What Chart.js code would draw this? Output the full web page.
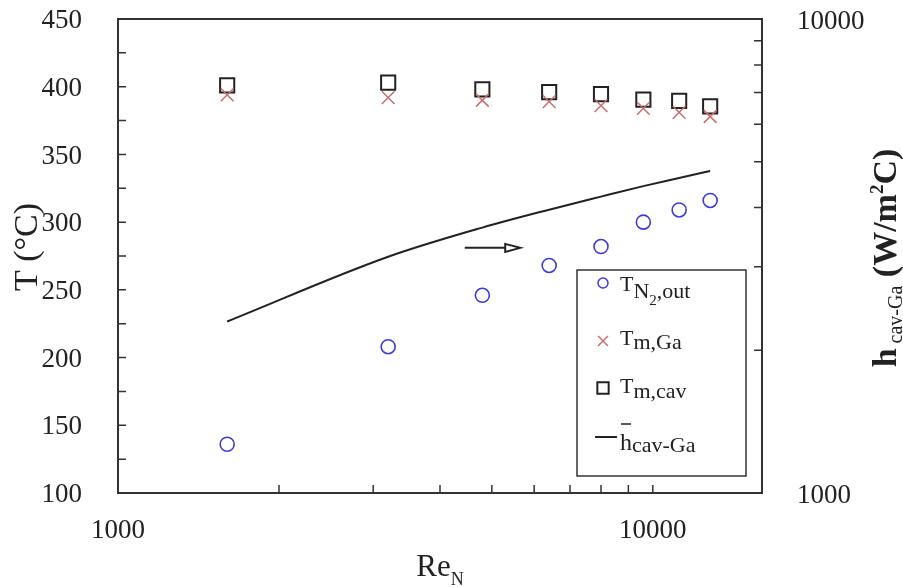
<!DOCTYPE html>
<html>
<head>
<meta charset="utf-8">
<script src="https://cdn.jsdelivr.net/npm/chart.js@4.4.1/dist/chart.umd.min.js"></script>
<style>
  html, body { margin: 0; padding: 0; background: #fff; }
  #wrap { width: 903px; height: 587px; }
</style>
</head>
<body>
<div id="wrap"><canvas id="chart" width="903" height="587"></canvas></div>
<script>
// Reynolds number (bottom axis, log)
const reN = [1600, 3200, 4800, 6400, 8000, 9600, 11200, 12800];
// temperatures on the left axis (°C)
const tN2Out = [136, 208, 246, 268, 282, 300, 309, 316];
const tMGa = [394, 392, 390, 389, 386, 384, 381, 378];
const tMCav = [401, 403, 398, 396, 394.5, 390.5, 389.5, 385.5];
// mean heat transfer coefficient on the right axis (W/m2C, log)
const hCavGa = [2300, 3150, 3630, 3960, 4220, 4440, 4620, 4780];

// axis ranges, labelled ticks and inner tick marks
const xRange = [1000, 16000];
const xLabels = [1000, 10000];
const xMarks = [2000, 3000, 4000, 5000, 6000, 7000, 8000, 9000, 10000];
const tRange = [100, 450];
const tMarks = [125, 150, 175, 200, 225, 250, 275, 300, 325, 350, 375, 400, 425];
const hRange = [1000, 10000];
const hLabels = [1000, 10000];
const hMarks = [2000, 3000, 4000, 5000, 6000, 7000, 8000, 9000];

// arrow showing the curve belongs to the right axis
const arrowRe = [4450, 5650];
const arrowT = 281;

const SERIF = '"Liberation Serif", "Times New Roman", serif';
const INK = '#222';
const BLUE = 'rgb(60,60,215)';
const ROSE = 'rgb(200,110,110)';

const pts = ys => reN.map((x, i) => ({ x, y: ys[i] }));

// draws a run of text pieces [text, size, dy, weight] and returns its width
function richText(ctx, x, y, parts, measureOnly) {
  let cx = x;
  parts.forEach(([t, size, dy, weight]) => {
    ctx.font = `${weight || 'normal'} ${size}px ${SERIF}`;
    if (!measureOnly) ctx.fillText(t, cx, y + dy);
    cx += ctx.measureText(t).width;
  });
  return cx - x;
}

function rotatedTitle(ctx, bx, cy, parts) {
  ctx.save();
  ctx.translate(bx, cy);
  ctx.rotate(-Math.PI / 2);
  const w = richText(ctx, 0, 0, parts, true);
  richText(ctx, -w / 2, 0, parts);
  ctx.restore();
}

// keep chart.js from adding label overhang to the plot margins
function fixBox(size) {
  return s => {
    if (s.isHorizontal()) s.height = size; else s.width = size;
    s.paddingTop = s.paddingBottom = s.paddingLeft = s.paddingRight = 0;
  };
}

const decorPlugin = {
  id: 'decor',
  afterDraw(chart) {
    const { ctx, chartArea: a, scales } = chart;
    const { x, y, y1 } = scales;
    ctx.save();

    // frame
    ctx.strokeStyle = '#333';
    ctx.lineWidth = 2;
    ctx.strokeRect(a.left, a.top, a.right - a.left, a.bottom - a.top);

    // inward tick marks
    ctx.lineWidth = 1.5;
    ctx.beginPath();
    xMarks.forEach(v => {
      const px = x.getPixelForValue(v);
      ctx.moveTo(px, a.bottom);
      ctx.lineTo(px, a.bottom - 8);
    });
    tMarks.forEach(v => {
      const py = y.getPixelForValue(v);
      ctx.moveTo(a.left, py);
      ctx.lineTo(a.left + 8, py);
    });
    hMarks.forEach(v => {
      const py = y1.getPixelForValue(v);
      ctx.moveTo(a.right, py);
      ctx.lineTo(a.right - 8, py);
    });
    ctx.stroke();

    // arrow
    const ax0 = x.getPixelForValue(arrowRe[0]);
    const ax1 = x.getPixelForValue(arrowRe[1]);
    const ay = y.getPixelForValue(arrowT);
    ctx.strokeStyle = INK;
    ctx.lineWidth = 2;
    ctx.beginPath();
    ctx.moveTo(ax0, ay);
    ctx.lineTo(ax1 - 14, ay);
    ctx.stroke();
    ctx.beginPath();
    ctx.moveTo(ax1 - 15, ay - 4);
    ctx.lineTo(ax1, ay);
    ctx.lineTo(ax1 - 15, ay + 4);
    ctx.closePath();
    ctx.fillStyle = '#fff';
    ctx.fill();
    ctx.stroke();

    // axis titles
    ctx.fillStyle = INK;
    ctx.textBaseline = 'alphabetic';
    rotatedTitle(ctx, 37, 247, [['T (°C)', 34, 0]]);
    rotatedTitle(ctx, 896, 258, [
      ['h', 34, 0, 'bold'], [' cav-Ga', 20, 6], [' (W/m', 34, 0, 'bold'],
      ['2', 19, -13, 'bold'], ['C)', 34, 0, 'bold']
    ]);
    const reParts = [['Re', 31, 0], ['N', 18, 9]];
    const bw = richText(ctx, 0, 0, reParts, true);
    richText(ctx, (a.left + a.right) / 2 - bw / 2, 576, reParts);

    // legend
    ctx.strokeStyle = '#333';
    ctx.lineWidth = 1.5;
    ctx.strokeRect(577, 270, 169, 206);
    const H = Chart.helpers;
    ctx.fillStyle = 'rgba(0,0,0,0)';
    ctx.strokeStyle = BLUE; ctx.lineWidth = 1.5;
    H.drawPoint(ctx, { pointStyle: 'circle', radius: 5, borderWidth: 1.5, rotation: 0 }, 603, 283);
    ctx.strokeStyle = ROSE;
    H.drawPoint(ctx, { pointStyle: 'crossRot', radius: 7, borderWidth: 1.5, rotation: 0 }, 603, 341);
    ctx.strokeStyle = INK; ctx.lineWidth = 2;
    H.drawPoint(ctx, { pointStyle: 'rect', radius: 8, borderWidth: 2, rotation: 0 }, 603, 388);
    ctx.beginPath();
    ctx.moveTo(595, 437);
    ctx.lineTo(617, 437);
    ctx.stroke();

    ctx.fillStyle = INK;
    richText(ctx, 620, 291, [['T', 22, 0], ['N', 22, 7], ['2', 15, 14], [',out', 22, 7]]);
    richText(ctx, 620, 345, [['T', 22, 0], ['m,Ga', 22, 4]]);
    richText(ctx, 620, 393, [['T', 22, 0], ['m,cav', 22, 5]]);
    const hw = richText(ctx, 620, 450, [['h', 24, 0]]);
    ctx.lineWidth = 1.5;
    ctx.beginPath();
    ctx.moveTo(621, 424);
    ctx.lineTo(620 + hw - 1, 424);
    ctx.stroke();
    richText(ctx, 620 + hw, 452, [['cav-Ga', 22, 0]]);

    ctx.restore();
  }
};

const tickFont = { family: SERIF, size: 27 };

new Chart(document.getElementById('chart'), {
  type: 'scatter',
  data: {
    datasets: [
      {
        label: 'T N2,out', data: pts(tN2Out), yAxisID: 'y',
        pointStyle: 'circle', pointRadius: 7, borderWidth: 1.6,
        borderColor: BLUE, backgroundColor: 'rgba(0,0,0,0)'
      },
      {
        label: 'T m,Ga', data: pts(tMGa), yAxisID: 'y',
        pointStyle: 'crossRot', pointRadius: 9, borderWidth: 1.5,
        borderColor: ROSE, backgroundColor: 'rgba(0,0,0,0)'
      },
      {
        label: 'T m,cav', data: pts(tMCav), yAxisID: 'y',
        pointStyle: 'rect', pointRadius: 10, borderWidth: 2,
        borderColor: INK, backgroundColor: 'rgba(0,0,0,0)'
      },
      {
        type: 'line', label: 'h cav-Ga', data: pts(hCavGa), yAxisID: 'y1',
        showLine: true, pointRadius: 0, borderWidth: 2, borderColor: INK,
        cubicInterpolationMode: 'monotone', fill: false
      }
    ]
  },
  options: {
    responsive: false,
    animation: false,
    devicePixelRatio: 1,
    layout: { padding: { top: 19, left: 0, right: 0, bottom: 0 } },
    plugins: { legend: { display: false }, tooltip: { enabled: false } },
    scales: {
      x: {
        type: 'logarithmic', min: xRange[0], max: xRange[1],
        grid: { display: false }, border: { display: false },
        ticks: {
          autoSkip: false, maxRotation: 0, padding: 14, font: tickFont, color: INK,
          callback: v => xLabels.includes(v) ? String(v) : ''
        },
        afterFit: fixBox(94)
      },
      y: {
        type: 'linear', position: 'left', min: tRange[0], max: tRange[1],
        grid: { display: false }, border: { display: false },
        ticks: {
          stepSize: 50, autoSkip: false, padding: 28, labelOffset: 2,
          font: tickFont, color: INK
        },
        afterFit: fixBox(118)
      },
      y1: {
        type: 'logarithmic', position: 'right', min: hRange[0], max: hRange[1],
        grid: { display: false }, border: { display: false },
        ticks: {
          autoSkip: false, padding: 27, labelOffset: 3, font: tickFont, color: INK,
          callback: v => hLabels.includes(v) ? String(v) : ''
        },
        afterFit: fixBox(141)
      }
    }
  },
  plugins: [decorPlugin]
});
</script>
</body>
</html>
